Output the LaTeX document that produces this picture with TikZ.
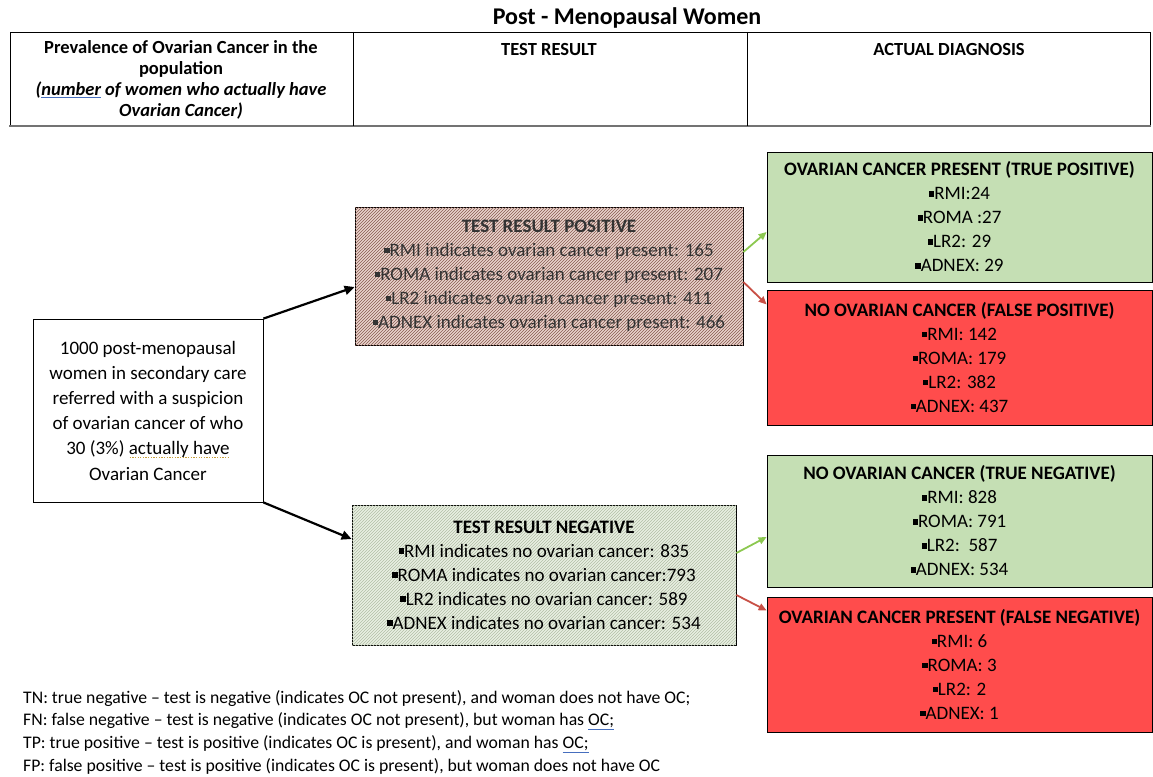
\documentclass[tikz,border=0pt]{standalone}
\usepackage{fontspec}
\setmainfont{Carlito}
\usetikzlibrary{arrows.meta,patterns}

\definecolor{okgreen}{RGB}{197,223,180}
\definecolor{badred}{RGB}{255,76,76}
\definecolor{posfill}{RGB}{234,212,205}
\definecolor{poshatch}{RGB}{135,90,80}
\definecolor{negfill}{RGB}{233,240,226}
\definecolor{neghatch}{RGB}{178,190,166}
\definecolor{arrgreen}{RGB}{140,200,80}
\definecolor{arrred}{RGB}{200,80,70}
\definecolor{spellblue}{RGB}{70,110,190}
\definecolor{spellgold}{RGB}{200,160,60}

\newcommand{\sqb}{\rule[0.18em]{0.28em}{0.28em}}
\newcommand{\spellul}[1]{\textcolor{spellblue}{\underline{\textcolor{black}{#1}}}}
\newcommand{\gramul}[1]{\setbox0\hbox{#1}\rlap{\textcolor{spellgold}{\raisebox{-3pt}{\hbox to \wd0{\xleaders\hbox to 2.6pt{\hss\rule{1.3pt}{1pt}\hss}\hfill}}}}\box0}

\begin{document}
\begin{tikzpicture}[x=1pt,y=-1pt,
	txt/.style={font=\fontsize{19}{24}\selectfont, align=center},
	testbox/.style={txt, draw, line width=0.8pt, inner sep=0pt},
	diagbox/.style={txt, draw, line width=0.8pt, inner sep=0pt, minimum width=385pt},
	mainarrow/.style={line width=2.2pt, -{Triangle[length=10pt,width=9pt]}},
	okarrow/.style={arrgreen, line width=1.8pt, -{Triangle[length=8pt,width=7pt]}},
	badarrow/.style={arrred, line width=1.8pt, -{Triangle[length=8pt,width=7pt]}}]
	\useasboundingbox (0,0) rectangle (1153,776);
	
	% header
	\node (title) at (627,18) {\fontsize{24}{28}\selectfont\bfseries Post - Menopausal Women};
	\draw[line width=0.8pt] (10,126) -- (10,32) -- (1150,32) -- (1150,126);
	\draw[black!55, line width=2.5pt] (9,126) -- (1151,126);
	\draw[line width=0.8pt] (353,32) -- (353,126);
	\draw[line width=0.8pt] (747,32) -- (747,126);
	\node[align=center, font=\fontsize{18.5}{20.8}\selectfont\bfseries] (prev) at (181,80)
		{Prevalence of Ovarian Cancer in the\\population\\
		 \textit{(\spellul{number} of women who actually have}\\\textit{Ovarian Cancer)}};
	\node[font=\fontsize{18.5}{20}\selectfont\bfseries] (colb) at (549,50) {TEST RESULT};
	\node[font=\fontsize{18.5}{20}\selectfont\bfseries] (colc) at (949,50) {ACTUAL DIAGNOSIS};
	
	% population
	\node[testbox, minimum width=230pt, minimum height=183pt, font=\fontsize{19}{25.2}\selectfont] (pop) at (148,410.5)
		{1000 post-menopausal\\women in secondary care\\referred with a suspicion\\of ovarian cancer of who\\
		 30 (3\%) \gramul{actually have}\\Ovarian Cancer};
	
	% test results
	\node[testbox, minimum width=388pt, minimum height=138pt, fill=posfill,
		postaction={pattern=north east lines, pattern color=poshatch}, text=black!80] (pos) at (549,276)
		{\textbf{TEST RESULT POSITIVE}\\
		 \sqb RMI indicates ovarian cancer present: 165\\
		 \sqb ROMA indicates ovarian cancer present: 207\\
		 \sqb LR2 indicates ovarian cancer present: 411\\
		 \sqb ADNEX indicates ovarian cancer present: 466};
	\node[testbox, minimum width=384pt, minimum height=140pt, fill=negfill,
		postaction={pattern=north east lines, pattern color=neghatch}] (neg) at (544,575)
		{\textbf{TEST RESULT NEGATIVE}\\
		 \sqb RMI indicates no ovarian cancer: 835\\
		 \sqb ROMA indicates no ovarian cancer:793\\
		 \sqb LR2 indicates no ovarian cancer: 589\\
		 \sqb ADNEX indicates no ovarian cancer: 534};
	
	% actual diagnosis
	\node[diagbox, fill=okgreen, minimum height=130pt] (tp) at (959.5,217)
		{\textbf{OVARIAN CANCER PRESENT (TRUE POSITIVE)}\\\sqb RMI:24\\\sqb ROMA :27\\\sqb LR2: 29\\\sqb ADNEX: 29};
	\node[diagbox, fill=badred, minimum height=135pt] (fp) at (959.5,357.5)
		{\textbf{NO OVARIAN CANCER (FALSE POSITIVE)}\\\sqb RMI: 142\\\sqb ROMA: 179\\\sqb LR2: 382\\\sqb ADNEX: 437};
	\node[diagbox, fill=okgreen, minimum height=132pt] (tn) at (959.5,521)
		{\textbf{NO OVARIAN CANCER (TRUE NEGATIVE)}\\\sqb RMI: 828\\\sqb ROMA: 791\\\sqb LR2:~~587\\\sqb ADNEX: 534};
	\node[diagbox, fill=badred, minimum height=135pt] (fn) at (959.5,664.5)
		{\textbf{OVARIAN CANCER PRESENT (FALSE NEGATIVE)}\\\sqb RMI: 6\\\sqb ROMA: 3\\\sqb LR2: 2\\\sqb ADNEX: 1};
	
	\draw[mainarrow] (pop.north east) -- ([yshift=-11pt]pos.west);
	\draw[mainarrow] (pop.south east) -- ([yshift=36pt]neg.west);
	\draw[okarrow] ([yshift=24pt]pos.east) -- ([yshift=-15pt]tp.west);
	\draw[badarrow] ([yshift=-6pt]pos.east) -- ([yshift=53pt]fp.west);
	\draw[okarrow] ([yshift=22pt]neg.east) -- ([yshift=-16pt]tn.west);
	\draw[badarrow] ([yshift=-20pt]neg.east) -- ([yshift=54pt]fn.west);
	
	% legend
	\node[anchor=west, align=left, inner sep=0pt, font=\fontsize{17.7}{22.7}\selectfont] (key) at (23,732)
		{TN: true negative -- test is negative (indicates OC not present), and woman does not have OC;\\
		 FN: false negative -- test is negative (indicates OC not present), but woman has \spellul{OC;}\\
		 TP: true positive -- test is positive (indicates OC is present), and woman has \spellul{OC;}\\
		 FP: false positive -- test is positive (indicates OC is present), but woman does not have OC};
\end{tikzpicture}
\end{document}
